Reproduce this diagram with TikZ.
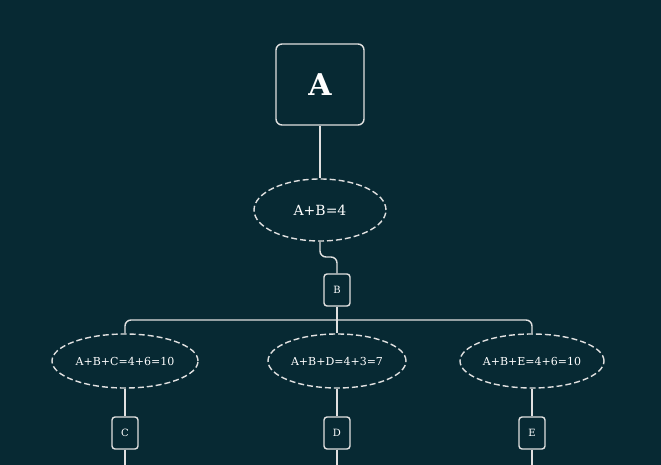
\documentclass[tikz,border=0pt]{standalone}
\usepackage{fontspec}
\setmainfont{DejaVu Serif}
\usetikzlibrary{shapes.geometric}
\begin{document}
\begin{tikzpicture}[x=1pt,y=-1pt,
  ln/.style={draw=white!88!black,line width=1.4pt},
  box/.style={ln,rounded corners=3pt,inner sep=0pt,minimum width=26pt,minimum height=32pt,text=white,font=\fontsize{10}{12}\selectfont},
  ell/.style={ln,dashed,dash pattern=on 6pt off 3pt,ellipse,inner sep=0pt,text=white},
  con/.style={ln,rounded corners=6pt}]
\definecolor{bg}{HTML}{072933}
\fill[bg] (0,0) rectangle (661,465);
\useasboundingbox (0,0) rectangle (661,465);
\node[box,minimum width=88pt,minimum height=81pt,rounded corners=6pt,font=\fontsize{30}{34}\bfseries\selectfont] (A) at (320,84.5) {A};
\node[ell,minimum width=132pt,minimum height=62pt,font=\fontsize{14}{16}\selectfont] (e0) at (320,210) {A+B=4};
\node[box] (B) at (337,290) {B};
\node[ell,minimum width=146pt,minimum height=54pt,font=\fontsize{11}{13}\selectfont] (e1) at (125,361) {A+B+C=4+6=10};
\node[ell,minimum width=138pt,minimum height=54pt,font=\fontsize{11}{13}\selectfont] (e2) at (337,361) {A+B+D=4+3=7};
\node[ell,minimum width=144pt,minimum height=54pt,font=\fontsize{11}{13}\selectfont] (e3) at (532,361) {A+B+E=4+6=10};
\node[box] (C) at (125,433) {C};
\node[box] (D) at (337,433) {D};
\node[box] (E) at (532,433) {E};
\coordinate (c1) at (125,466);
\coordinate (c2) at (337,466);
\coordinate (c3) at (532,466);
\draw[ln] (A) -- (e0);
\draw[con] (e0.south) -- (320,257) -- (337,257) -- (B.north);
\draw[ln] (B.south) -- (337,320);
\draw[con] (e1.north) -- (125,320) -- (532,320) -- (e3.north);
\draw[ln] (337,320) -- (e2.north);
\draw[ln] (e1) -- (C); \draw[ln] (e2) -- (D); \draw[ln] (e3) -- (E);
\draw[ln] (C) -- (c1); \draw[ln] (D) -- (c2); \draw[ln] (E) -- (c3);
\end{tikzpicture}
\end{document}
